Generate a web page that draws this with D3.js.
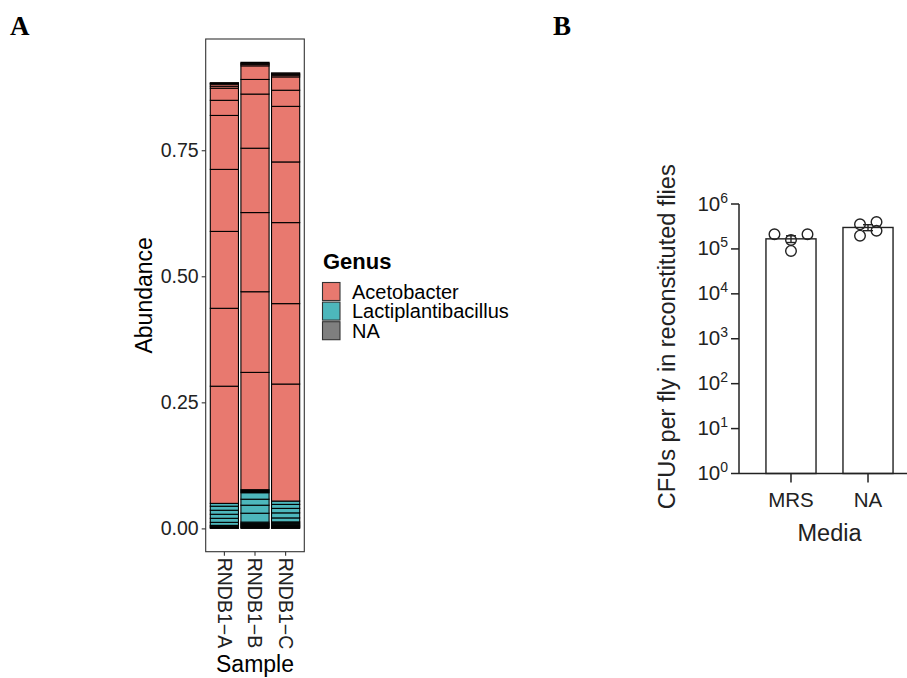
<!DOCTYPE html>
<html>
<head>
<meta charset="utf-8">
<script src="https://cdn.jsdelivr.net/npm/d3@7"></script>
<style>
  body { margin: 0; background: #fff; }
  svg { font-family: "Liberation Sans", Arial, sans-serif; }
</style>
</head>
<body>
<svg id="fig" width="907" height="678"></svg>
<script>
// ---- panel A data (segments listed bottom to top) ----
const samples = ["RNDB1−A", "RNDB1−B", "RNDB1−C"];
const genera = ["Acetobacter", "Lactiplantibacillus", "NA"];
const genusColors = ["#E8796F", "#4DB7BC", "#7F7F7F"];

const abundA = [0.0015, 0.0015, 0.0015, 0.0015, 0.006, 0.008, 0.008, 0.008, 0.008, 0.0056,
  0.2324, 0.1545, 0.1525, 0.123, 0.107, 0.030, 0.024, 0.004, 0.004, 0.0015, 0.0015];
const genusA = ["NA", "NA", "NA", "Lactiplantibacillus", "Lactiplantibacillus", "Lactiplantibacillus",
  "Lactiplantibacillus", "Lactiplantibacillus", "Lactiplantibacillus", "Lactiplantibacillus",
  "Acetobacter", "Acetobacter", "Acetobacter", "Acetobacter", "Acetobacter", "Acetobacter",
  "Acetobacter", "Acetobacter", "Acetobacter", "Acetobacter", "Acetobacter"];

const abundB = [0.002, 0.002, 0.002, 0.002, 0.002, 0.0025, 0.0176, 0.0159, 0.0119, 0.0129,
  0.002, 0.002, 0.002, 0.2326, 0.160, 0.157, 0.1276, 0.1074, 0.029, 0.027, 0.003, 0.002, 0.002];
const genusB = ["NA", "NA", "NA", "Lactiplantibacillus", "Lactiplantibacillus", "Lactiplantibacillus",
  "Lactiplantibacillus", "Lactiplantibacillus", "Lactiplantibacillus", "Lactiplantibacillus",
  "Lactiplantibacillus", "Lactiplantibacillus", "Lactiplantibacillus",
  "Acetobacter", "Acetobacter", "Acetobacter", "Acetobacter", "Acetobacter", "Acetobacter",
  "Acetobacter", "Acetobacter", "Acetobacter", "Acetobacter"];

const abundC = [0.002, 0.002, 0.002, 0.0023, 0.0023, 0.0023, 0.0079, 0.010, 0.0089, 0.0079, 0.0066,
  0.2321, 0.1595, 0.1607, 0.1203, 0.1102, 0.032, 0.0265, 0.0033, 0.0023, 0.0023];
const genusC = ["NA", "NA", "NA", "Lactiplantibacillus", "Lactiplantibacillus", "Lactiplantibacillus",
  "Lactiplantibacillus", "Lactiplantibacillus", "Lactiplantibacillus", "Lactiplantibacillus",
  "Lactiplantibacillus",
  "Acetobacter", "Acetobacter", "Acetobacter", "Acetobacter", "Acetobacter", "Acetobacter",
  "Acetobacter", "Acetobacter", "Acetobacter", "Acetobacter"];

const abundTicks = [0, 0.25, 0.5, 0.75];

// ---- panel B data ----
const media = ["MRS", "NA"];
const cfuMRS = [2.11e5, 1.58e5, 2.11e5, 0.90e5];
const cfuNA = [3.53e5, 3.97e5, 1.97e5, 2.54e5];
const jitterMRS = [-0.33, 0, 0.33, 0];
const jitterNA = [-0.16, 0.17, -0.16, 0.17];
const logTicks = [0, 1, 2, 3, 4, 5, 6];

const svg = d3.select("#fig");

// panel letters
svg.append("text").attr("x", 10).attr("y", 35)
  .style("font-family", "'Liberation Serif', 'Times New Roman', serif")
  .style("font-weight", "bold").style("font-size", "27px").text("A");
svg.append("text").attr("x", 553).attr("y", 35)
  .style("font-family", "'Liberation Serif', 'Times New Roman', serif")
  .style("font-weight", "bold").style("font-size", "27px").text("B");

// ================= panel A =================
const panelA = { left: 205.7, right: 304.3, top: 39, bottom: 551.7 };

const stacks = [[abundA, genusA], [abundB, genusB], [abundC, genusC]].map(function (s, i) {
  let cum = 0;
  return s[0].map(function (v, j) {
    const seg = { sample: samples[i], genus: s[1][j], y0: cum, y1: cum + v };
    cum += v;
    return seg;
  });
});
const maxTotal = d3.max(stacks, function (st) { return st[st.length - 1].y1; });
const pad = maxTotal * 0.05;

const xA = d3.scaleBand().domain(samples)
  .range([panelA.left, panelA.right]).paddingInner(0.08).paddingOuter(0.15);
const yA = d3.scaleLinear().domain([-pad, maxTotal + pad])
  .range([panelA.bottom, panelA.top]);
const colorA = d3.scaleOrdinal().domain(genera).range(genusColors);

const gA = svg.append("g");

gA.selectAll("g.bar")
  .data(stacks)
  .join("g")
  .attr("class", "bar")
  .selectAll("rect")
  .data(function (d) { return d; })
  .join("rect")
  .attr("x", function (d) { return xA(d.sample); })
  .attr("width", xA.bandwidth())
  .attr("y", function (d) { return yA(d.y1); })
  .attr("height", function (d) { return yA(d.y0) - yA(d.y1); })
  .attr("fill", function (d) { return colorA(d.genus); })
  .attr("stroke", "#000")
  .attr("stroke-width", 1.1);

// panel border
gA.append("rect")
  .attr("x", panelA.left).attr("y", panelA.top)
  .attr("width", panelA.right - panelA.left)
  .attr("height", panelA.bottom - panelA.top)
  .attr("fill", "none").attr("stroke", "#333").attr("stroke-width", 1.1);

// y axis
const yAxisA = gA.append("g")
  .attr("transform", "translate(" + panelA.left + ",0)")
  .call(d3.axisLeft(yA).tickValues(abundTicks).tickFormat(d3.format(".2f")).tickSize(4).tickPadding(3));
yAxisA.select(".domain").remove();
yAxisA.selectAll(".tick line").attr("stroke", "#333").attr("stroke-width", 1.1);
yAxisA.selectAll(".tick text")
  .attr("fill", "#222")
  .style("font-size", "19.5px")
  .style("font-family", "'Liberation Sans', Arial, sans-serif");

// x axis
const xAxisA = gA.append("g")
  .attr("transform", "translate(0," + panelA.bottom + ")")
  .call(d3.axisBottom(xA).tickSize(4).tickSizeOuter(0));
xAxisA.select(".domain").remove();
xAxisA.selectAll(".tick line").attr("stroke", "#333").attr("stroke-width", 1.1);
xAxisA.selectAll(".tick text")
  .attr("fill", "#222")
  .style("font-size", "19.5px")
  .style("font-family", "'Liberation Sans', Arial, sans-serif")
  .attr("text-anchor", "start")
  .attr("transform", "translate(0,6) rotate(90)")
  .attr("x", 0).attr("y", 0).attr("dy", "0.35em");

gA.append("text")
  .attr("transform", "translate(152," + ((panelA.top + panelA.bottom) / 2) + ") rotate(-90)")
  .attr("text-anchor", "middle")
  .style("font-size", "23px")
  .text("Abundance");

gA.append("text")
  .attr("x", (panelA.left + panelA.right) / 2)
  .attr("y", 672)
  .attr("text-anchor", "middle")
  .style("font-size", "23px")
  .text("Sample");

// legend
const legend = gA.append("g").attr("transform", "translate(322,0)");
legend.append("text")
  .attr("x", 1).attr("y", 269)
  .style("font-size", "22px").style("font-weight", "bold")
  .text("Genus");
genera.forEach(function (g, i) {
  legend.append("rect")
    .attr("x", 0.5).attr("y", 282.5 + i * 19.6)
    .attr("width", 17.5).attr("height", 18)
    .attr("fill", colorA(g)).attr("stroke", "#333").attr("stroke-width", 1.1);
  legend.append("text")
    .attr("x", 30).attr("y", 298.5 + i * 19.6)
    .style("font-size", "20px")
    .text(g);
});

// ================= panel B =================
const panelB = { left: 739, right: 920, top: 204, bottom: 473.5 };
const groups = [
  { media: media[0], values: cfuMRS, jitter: jitterMRS },
  { media: media[1], values: cfuNA, jitter: jitterNA }
];
groups.forEach(function (g) {
  g.mean = d3.mean(g.values);
  g.sem = d3.deviation(g.values) / Math.sqrt(g.values.length);
});

const xB = d3.scaleBand().domain(media).range([panelB.left, panelB.right]).padding(0.35);
const yB = d3.scaleLog().domain([1, 1e6]).range([panelB.bottom, panelB.top]);

const gB = svg.append("g");
const ink = "#222";

gB.selectAll("rect.cfu")
  .data(groups)
  .join("rect")
  .attr("class", "cfu")
  .attr("x", function (d) { return xB(d.media); })
  .attr("width", xB.bandwidth())
  .attr("y", function (d) { return yB(d.mean); })
  .attr("height", function (d) { return yB(1) - yB(d.mean); })
  .attr("fill", "#fff").attr("stroke", ink).attr("stroke-width", 1.4);

// error bars
groups.forEach(function (d) {
  const cx = xB(d.media) + xB.bandwidth() / 2;
  const lo = yB(d.mean - d.sem), hi = yB(d.mean + d.sem);
  gB.append("line").attr("x1", cx).attr("x2", cx).attr("y1", lo).attr("y2", hi)
    .attr("stroke", ink).attr("stroke-width", 1.4);
  [lo, hi].forEach(function (yy) {
    gB.append("line").attr("x1", cx - 5).attr("x2", cx + 5).attr("y1", yy).attr("y2", yy)
      .attr("stroke", ink).attr("stroke-width", 1.4);
  });
});

// points
groups.forEach(function (d) {
  const cx = xB(d.media) + xB.bandwidth() / 2;
  gB.selectAll(null)
    .data(d.values)
    .join("circle")
    .attr("cx", function (v, i) { return cx + d.jitter[i] * xB.bandwidth(); })
    .attr("cy", function (v) { return yB(v); })
    .attr("r", 5.3)
    .attr("fill", "none").attr("stroke", ink).attr("stroke-width", 1.4);
});

// axes B
gB.append("line")
  .attr("x1", panelB.left).attr("x2", panelB.left)
  .attr("y1", yB(1e6)).attr("y2", yB(1))
  .attr("stroke", ink).attr("stroke-width", 1.5);
gB.append("line")
  .attr("x1", panelB.left).attr("x2", panelB.right)
  .attr("y1", yB(1)).attr("y2", yB(1))
  .attr("stroke", ink).attr("stroke-width", 1.5);

const yTicksB = gB.selectAll("g.ytick")
  .data(logTicks)
  .join("g")
  .attr("class", "ytick")
  .attr("transform", function (d) { return "translate(" + panelB.left + "," + yB(Math.pow(10, d)) + ")"; });
yTicksB.append("line").attr("x1", -8).attr("x2", 0)
  .attr("stroke", ink).attr("stroke-width", 1.5);
const yLab = yTicksB.append("text")
  .attr("x", -11).attr("y", 6.5)
  .attr("text-anchor", "end")
  .attr("fill", ink)
  .style("font-size", "20.5px");
yLab.append("tspan").text("10");
yLab.append("tspan").attr("dy", -8).style("font-size", "14px").text(function (d) { return d; });

const xTicksB = gB.selectAll("g.xtick")
  .data(media)
  .join("g")
  .attr("class", "xtick")
  .attr("transform", function (d) { return "translate(" + (xB(d) + xB.bandwidth() / 2) + "," + panelB.bottom + ")"; });
xTicksB.append("line").attr("y1", 0).attr("y2", 9)
  .attr("stroke", ink).attr("stroke-width", 1.5);
xTicksB.append("text")
  .attr("y", 33).attr("text-anchor", "middle")
  .attr("fill", ink)
  .style("font-size", "20.5px")
  .text(function (d) { return d; });

gB.append("text")
  .attr("transform", "translate(675," + ((panelB.top + panelB.bottom) / 2 - 2) + ") rotate(-90)")
  .attr("text-anchor", "middle")
  .attr("fill", ink)
  .style("font-size", "23.5px")
  .text("CFUs per fly in reconstituted flies");

gB.append("text")
  .attr("x", (panelB.left + panelB.right) / 2)
  .attr("y", 541)
  .attr("text-anchor", "middle")
  .attr("fill", ink)
  .style("font-size", "23.5px")
  .text("Media");
</script>
</body>
</html>
